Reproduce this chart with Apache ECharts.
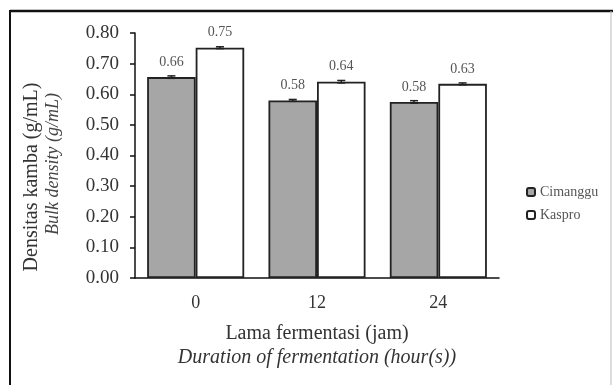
<!DOCTYPE html>
<html>
<head>
<meta charset="utf-8">
<script src="https://cdn.jsdelivr.net/npm/echarts@6/dist/echarts.min.js"></script>
<style>
  html, body { margin: 0; padding: 0; background: #fff; }
  #chart { width: 613px; height: 385px; }
</style>
</head>
<body>
<div id="chart"></div>
<script>
// data
const categories = ['0', '12', '24']
const cimanggu = [0.656, 0.58, 0.575]
const kaspro = [0.752, 0.641, 0.634]
const cimangguLabels = ['0.66', '0.58', '0.58']
const kasproLabels = ['0.75', '0.64', '0.63']
const cimangguErr = [0.004, 0.003, 0.004]
const kasproErr = [0.003, 0.004, 0.003]

const serif = '"Liberation Serif", "DejaVu Serif", serif'
const chart = echarts.init(document.getElementById('chart'))

// small error caps drawn on top of each bar
const errorSeries = (values, errs, seriesIndex, name) => ({
  type: 'custom',
  name: name + '-err',
  z: 5,
  silent: true,
  data: values.map((v, i) => [i, v - errs[i], v + errs[i]]),
  renderItem: (params, api) => {
    const lo = api.coord([api.value(0), api.value(1)])
    const hi = api.coord([api.value(0), api.value(2)])
    const band = api.size([1, 0])[0]
    const barW = band * 0.4
    const x = lo[0] + (seriesIndex === 0 ? -barW / 2 : barW / 2)
    const cap = 4
    const style = { stroke: '#222', lineWidth: 1.5 }
    return {
      type: 'group',
      children: [
        { type: 'line', shape: { x1: x, y1: lo[1], x2: x, y2: hi[1] }, style },
        { type: 'line', shape: { x1: x - cap, y1: hi[1], x2: x + cap, y2: hi[1] }, style },
        { type: 'line', shape: { x1: x - cap, y1: lo[1], x2: x + cap, y2: lo[1] }, style }
      ]
    }
  }
})

const option = {
  animation: false,
  backgroundColor: '#fff',
  textStyle: { fontFamily: serif },
  grid: { left: 135, right: 114, top: 33, bottom: 107 },
  legend: {
    data: ['Cimanggu', 'Kaspro'],
    orient: 'vertical',
    left: 521,
    top: 180,
    itemWidth: 8,
    itemHeight: 8,
    itemGap: 9,
    textStyle: { fontFamily: serif, fontSize: 14, color: '#555' }
  },
  xAxis: {
    type: 'category',
    data: categories,
    axisLine: { lineStyle: { color: '#111', width: 1.5 } },
    axisTick: { show: false },
    axisLabel: { fontFamily: serif, fontSize: 18, color: '#333', margin: 16 },
    name: '{a|Lama fermentasi (jam)}\n{b|Duration of fermentation (hour(s))}',
    nameLocation: 'middle',
    nameGap: 44,
    nameTextStyle: {
      rich: {
        a: { fontFamily: serif, fontSize: 20, color: '#333', lineHeight: 24 },
        b: { fontFamily: serif, fontSize: 20, fontStyle: 'italic', color: '#333', lineHeight: 24 }
      }
    }
  },
  yAxis: {
    type: 'value',
    min: 0,
    max: 0.8,
    interval: 0.1,
    axisLine: { show: true, lineStyle: { color: '#111', width: 1.5 } },
    axisTick: { show: true, inside: false, length: 5, lineStyle: { color: '#111', width: 1.5 } },
    splitLine: { show: false },
    axisLabel: {
      fontFamily: serif,
      fontSize: 19,
      color: '#333',
      margin: 16,
      formatter: v => v.toFixed(2)
    }
  },
  graphic: [
    {
      type: 'text',
      x: 32, y: 177, rotation: Math.PI / 2,
      style: {
        text: 'Densitas kamba (g/mL)', fontFamily: serif, fontSize: 20,
        fill: '#333', align: 'center', verticalAlign: 'middle'
      }
    },
    {
      type: 'text',
      x: 53, y: 164, rotation: Math.PI / 2,
      style: {
        text: 'Bulk density (g/mL)', fontFamily: serif, fontSize: 18, fontStyle: 'italic',
        fill: '#444', align: 'center', verticalAlign: 'middle'
      }
    },
    { type: 'line', shape: { x1: 10, y1: 11, x2: 613, y2: 11 }, style: { stroke: '#111', lineWidth: 2.5 } },
    { type: 'line', shape: { x1: 10, y1: 10, x2: 10, y2: 385 }, style: { stroke: '#111', lineWidth: 2 } },
    { type: 'line', shape: { x1: 611, y1: 11, x2: 611, y2: 385 }, style: { stroke: '#bbb', lineWidth: 1 } }
  ],
  series: [
    {
      name: 'Cimanggu',
      type: 'bar',
      data: cimanggu,
      barGap: '0%',
      barCategoryGap: '20%',
      itemStyle: { color: '#a6a6a6', borderColor: '#222', borderWidth: 1.8 },
      label: {
        show: true, position: 'top', distance: 8,
        fontFamily: serif, fontSize: 14, color: '#555',
        formatter: p => cimangguLabels[p.dataIndex]
      }
    },
    {
      name: 'Kaspro',
      type: 'bar',
      data: kaspro,
      itemStyle: { color: '#ffffff', borderColor: '#222', borderWidth: 1.8 },
      label: {
        show: true, position: 'top', distance: 8,
        fontFamily: serif, fontSize: 14, color: '#555',
        formatter: p => kasproLabels[p.dataIndex]
      }
    },
    errorSeries(cimanggu, cimangguErr, 0, 'Cimanggu'),
    errorSeries(kaspro, kasproErr, 1, 'Kaspro')
  ]
}

chart.setOption(option)
</script>
</body>
</html>
